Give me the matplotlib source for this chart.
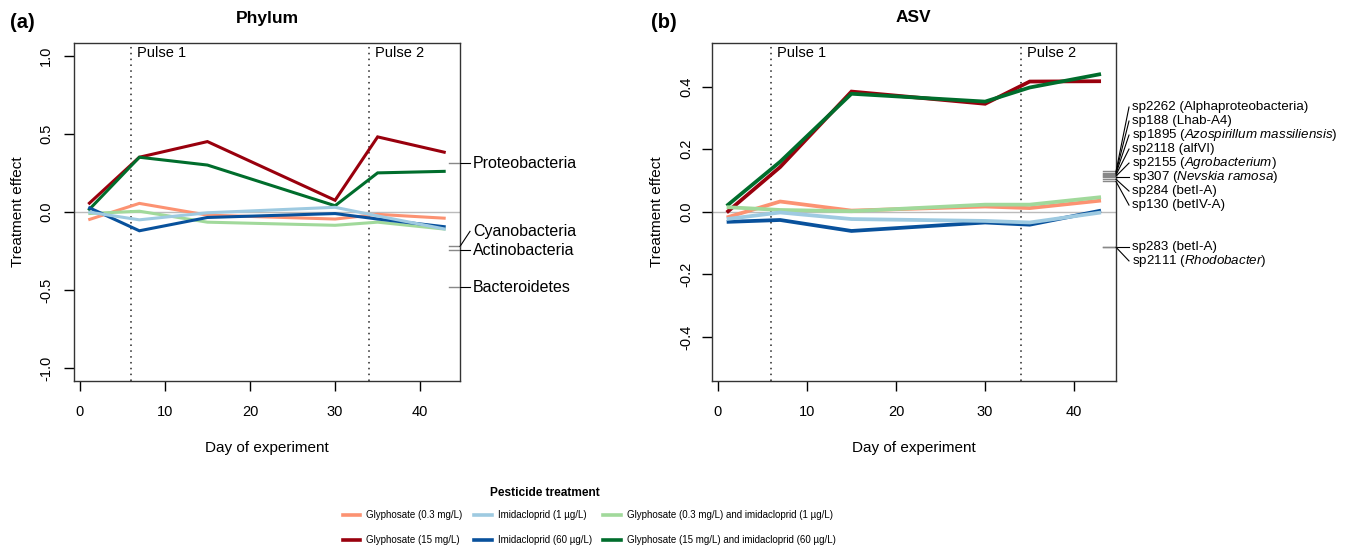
import matplotlib
matplotlib.use("Agg")
import matplotlib.pyplot as plt
from matplotlib.transforms import blended_transform_factory
from matplotlib.lines import Line2D

# ---------------- data ----------------
days = [1, 7, 15, 30, 35, 43]
pulse_days = [6, 34]
pulse_labels = ["Pulse 1", "Pulse 2"]

treatments = ["Glyphosate (0.3 mg/L)", "Glyphosate (15 mg/L)",
              "Imidacloprid (1 \u00b5g/L)", "Imidacloprid (60 \u00b5g/L)",
              "Glyphosate (0.3 mg/L) and imidacloprid (1 \u00b5g/L)",
              "Glyphosate (15 mg/L) and imidacloprid (60 \u00b5g/L)"]
colors = ["#FC9272", "#99000D", "#9ECAE1", "#08519C", "#A1D99B", "#006D2C"]

# Panel (a) Phylum
phy_gly_low = [-0.05, 0.055, -0.02, -0.045, -0.015, -0.04]
phy_gly_high = [0.05, 0.35, 0.45, 0.075, 0.48, 0.38]
phy_imi_low = [0.0, -0.05, -0.005, 0.03, -0.025, -0.11]
phy_imi_high = [0.03, -0.12, -0.035, -0.01, -0.045, -0.095]
phy_mix_low = [-0.01, 0.005, -0.065, -0.085, -0.065, -0.11]
phy_mix_high = [0.01, 0.35, 0.30, 0.04, 0.25, 0.26]
phylum_names = ["Proteobacteria", "Cyanobacteria", "Actinobacteria", "Bacteroidetes"]
phylum_scores = [0.31, -0.22, -0.245, -0.48]

# Panel (b) ASV
asv_gly_low = [-0.018, 0.033, 0.004, 0.017, 0.012, 0.036]
asv_gly_high = [-0.002, 0.143, 0.384, 0.345, 0.416, 0.417]
asv_imi_low = [-0.023, -0.002, -0.023, -0.029, -0.034, -0.002]
asv_imi_high = [-0.032, -0.026, -0.061, -0.034, -0.041, 0.004]
asv_mix_low = [0.015, 0.006, 0.002, 0.023, 0.023, 0.047]
asv_mix_high = [0.019, 0.160, 0.377, 0.352, 0.397, 0.440]
asv_names = ["sp2262 (Alphaproteobacteria)", "sp188 (Lhab-A4)",
             "sp1895 ($\\mathit{Azospirillum\\ massiliensis}$)", "sp2118 (alfVI)",
             "sp2155 ($\\mathit{Agrobacterium}$)", "sp307 ($\\mathit{Nevskia\\ ramosa}$)",
             "sp284 (betI-A)", "sp130 (betIV-A)", "sp283 (betI-A)",
             "sp2111 ($\\mathit{Rhodobacter}$)"]
asv_scores = [0.129, 0.125, 0.122, 0.118, 0.114, 0.111, 0.104, 0.097, -0.112, -0.113]

phy_series = [phy_gly_low, phy_gly_high, phy_imi_low, phy_imi_high, phy_mix_low, phy_mix_high]
asv_series = [asv_gly_low, asv_gly_high, asv_imi_low, asv_imi_high, asv_mix_low, asv_mix_high]

# ---------------- style ----------------
plt.rcParams["font.family"] = ["Liberation Sans", "DejaVu Sans"]
plt.rcParams["mathtext.fontset"] = "custom"
plt.rcParams["mathtext.rm"] = "Liberation Sans"
plt.rcParams["mathtext.it"] = "Liberation Sans:italic"

W, H = 1352, 547
fig = plt.figure(figsize=(W / 100, H / 100), dpi=100)

def make_axes(l, r, t, b):
    return fig.add_axes([l / W, 1 - b / H, (r - l) / W, (b - t) / H])

axA = make_axes(74, 460, 43, 381)
axB = make_axes(711.7, 1116, 42.7, 381)

def linestack(scores, ht):
    # vegan::linestack label placement (ascending order, start from middle)
    order = sorted(range(len(scores)), key=lambda i: scores[i])
    x = [scores[i] for i in order]
    n = len(x)
    pos = [0.0] * n
    mid = (n + 1) // 2 - 1
    pos[mid] = x[mid]
    for i in range(mid + 1, n):
        pos[i] = max(x[i], pos[i - 1] + ht)
    for i in range(mid - 1, -1, -1):
        pos[i] = min(x[i], pos[i + 1] - ht)
    out = [0.0] * n
    for k, i in enumerate(order):
        out[i] = pos[k]
    return out

def setup(ax, series, lw, ylim, yticks, title, tag, tagx, names, scores,
          ht_px, hoff_px, rug_px, labsize, pulse_y_px, yl_x, ytick_labels, ypad):
    ax.set_xlim(-0.68, 44.68)
    ax.set_ylim(*ylim)
    ax.axhline(0, color="#bbbbbb", lw=1.0, zorder=1)
    for pdx in pulse_days:
        ax.axvline(pdx, color="#555555", lw=1.4, ls=(0, (0.8, 2.2)), zorder=1)
    order = [1, 5, 0, 4, 3, 2]
    for k in order:
        ax.plot(days, series[k], color=colors[k], lw=lw, solid_capstyle="butt",
                solid_joinstyle="miter", zorder=3)
    ax.set_xticks([0, 10, 20, 30, 40])
    ax.set_yticks(yticks)
    ax.set_yticklabels(ytick_labels, rotation=90, va="center")
    ax.tick_params(axis="both", length=7, width=1, labelsize=10.5,
                   direction="out", colors="black")
    ax.tick_params(axis="x", pad=10)
    ax.tick_params(axis="y", pad=ypad)
    for sp in ax.spines.values():
        sp.set_linewidth(1.0)
        sp.set_color("#333333")
    # pulse labels
    for pdx, plab in zip(pulse_days, pulse_labels):
        ax.annotate(plab, xy=(pdx, 1), xycoords=("data", "axes fraction"),
                    xytext=(6, -pulse_y_px), textcoords="offset pixels",
                    ha="left", va="center", fontsize=10.5)
    # title and tag
    bb = ax.get_position()
    fig.text((bb.x0 + bb.x1) / 2, 1 - 18 / H, title, ha="center", va="center",
             fontsize=12.5, fontweight="bold")
    fig.text(tagx / W, 1 - 22 / H, tag, ha="left", va="center",
             fontsize=14.5, fontweight="bold")
    fig.text((bb.x0 + bb.x1) / 2, 1 - 448 / H, "Day of experiment",
             ha="center", va="center", fontsize=11)
    fig.text(yl_x / W, (bb.y0 + bb.y1) / 2, "Treatment effect", rotation=90,
             ha="center", va="center", fontsize=11)
    # species scores on right side
    ax_h_px = bb.height * H
    ax_w_px = bb.width * W
    yr = ylim[1] - ylim[0]
    ht = ht_px / ax_h_px * yr
    pos = linestack(scores, ht)
    trans = blended_transform_factory(ax.transAxes, ax.transData)
    x_end = 1 + hoff_px / ax_w_px
    x_rug = 1 - rug_px / ax_w_px
    for s, p, name in zip(scores, pos, names):
        ax.plot([x_rug, 1], [s, s], transform=trans, color="#888888", lw=1.0,
                clip_on=False, zorder=4)
        ax.plot([1, x_end], [s, p], transform=trans, color="black", lw=0.8,
                clip_on=False, zorder=4)
        ax.text(x_end + 3 / ax_w_px, p, name, transform=trans, ha="left",
                va="center", fontsize=labsize, clip_on=False)

setup(axA, phy_series, 2.2, (-1.08, 1.08), [-1.0, -0.5, 0.0, 0.5, 1.0],
      "Phylum", "(a)", 10, phylum_names, phylum_scores,
      ht_px=19, hoff_px=10, rug_px=11, labsize=11.5, pulse_y_px=10, yl_x=18,
      ytick_labels=["-1.0", "-0.5", "0.0", "0.5", "1.0"], ypad=8)
setup(axB, asv_series, 2.7, (-0.54, 0.54), [-0.4, -0.2, 0.0, 0.2, 0.4],
      "ASV", "(b)", 651, asv_names, asv_scores,
      ht_px=14, hoff_px=13, rug_px=13, labsize=9.6, pulse_y_px=10, yl_x=657,
      ytick_labels=["-0.4", "-0.2", "0.0", "0.2", "0.4"], ypad=6)

# ---------------- legend ----------------
handles = [Line2D([0], [0], color=c, lw=2.6) for c in colors]
leg_font = {"family": "Liberation Sans", "size": 7.0}
leg = fig.legend(handles, treatments, ncol=3, loc="upper left",
                 bbox_to_anchor=(342.7 / W, 1 - 510 / H), frameon=False,
                 prop=leg_font, handlelength=1.8, handletextpad=0.62,
                 columnspacing=1.2, labelspacing=1.55, borderpad=0,
                 borderaxespad=0)
fig.text(545 / W, 1 - 493 / H, "Pesticide treatment", ha="center", va="center",
         fontsize=8.6, fontweight="bold")

fig.savefig("out.png", dpi=100)
